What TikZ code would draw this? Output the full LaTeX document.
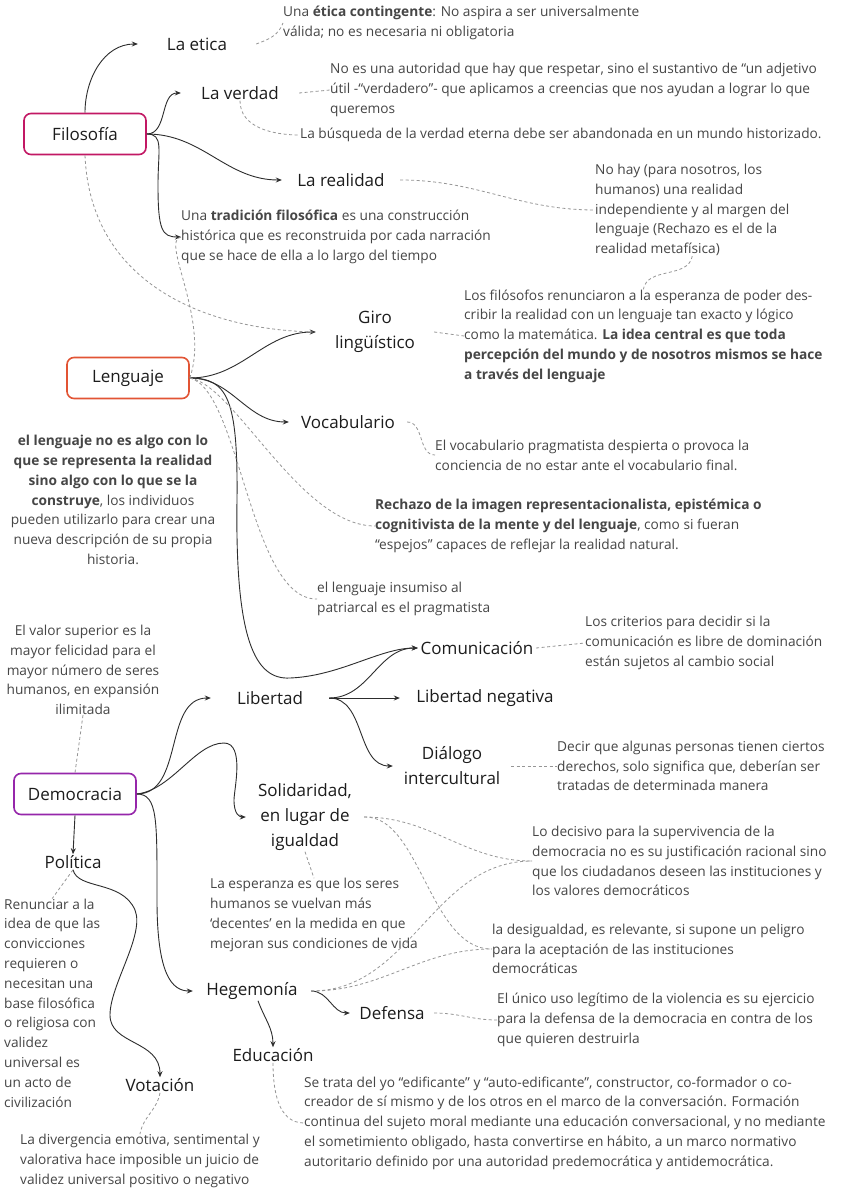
\documentclass[tikz,border=0pt]{standalone}
\usepackage{fontspec}
\setmainfont{Open Sans}
\usepackage{xcolor}
\usetikzlibrary{arrows.meta}
\definecolor{filc}{RGB}{194,24,100}
\definecolor{lenc}{RGB}{226,84,52}
\definecolor{demc}{RGB}{150,38,170}
\definecolor{txt}{RGB}{28,28,28}
\definecolor{notec}{RGB}{70,70,70}
\definecolor{linec}{RGB}{45,45,45}
\definecolor{tiec}{RGB}{150,150,150}
\tikzset{
  topic/.style={font=\fontsize{17}{25}\selectfont, text=txt, align=center, inner sep=1pt, minimum width=118pt},
  main/.style={topic, draw, rounded corners=7pt, line width=1.6pt, minimum width=122pt, minimum height=41pt},
  note/.style={font=\fontsize{13.7}{19.8}\selectfont, text=notec, align=left, inner sep=0pt},
  link/.style={draw=linec, line width=0.9pt, -{Stealth[length=6pt,width=5pt]}},
  tie/.style={draw=tiec, line width=0.8pt, dashed, dash pattern=on 3pt off 2.5pt}
}
\begin{document}
\begin{tikzpicture}[x=1pt,y=-1pt]
		\fill[white] (0,0) rectangle (841,1188);
		\useasboundingbox (0,0) rectangle (841,1188);
		\node (F) [main, draw=filc] at (85,134) {Filosofía};
		\node (L) [main, draw=lenc] at (128,378) {Lenguaje};
		\node (D) [main, draw=demc] at (75,794) {Democracia};
		\node (eti) [topic] at (197,44) {La etica};
		\node (ver) [topic] at (240,93) {La verdad};
		\node (rea) [topic] at (341,180) {La realidad};
		\node (giro) [topic] at (375,332) {Giro\\lingüístico};
		\node (voc) [topic] at (348,422) {Vocabulario};
		\node (com) [topic] at (477,648) {Comunicación};
		\node (lib) [topic] at (270,698) {Libertad};
		\node (neg) [topic, minimum width=170pt] at (485,698) {Libertad negativa};
		\node (dia) [topic] at (452,766) {Diálogo\\intercultural};
		\node (sol) [topic] at (305,817) {Solidaridad,\\en lugar de\\igualdad};
		\node (pol) [topic] at (73,862) {Política};
		\node (heg) [topic] at (252,991) {Hegemonía};
		\node (def) [topic, minimum width=84pt] at (392,1013) {Defensa};
		\node (edu) [topic] at (273,1055) {Educación};
		\node (vot) [topic] at (160,1085) {Votación};
		\node (nEti) [note, anchor=west] at (283,23) {Una \textbf{ética contingente}: No aspira a ser universalmente\\válida; no es necesaria ni obligatoria};
		\node (nVer) [note, anchor=west] at (330,90) {No es una autoridad que hay que respetar, sino el sustantivo de “un adjetivo\\útil -“verdadero”- que aplicamos a creencias que nos ayudan a lograr lo que\\queremos};
		\node (nBus) [note, anchor=west] at (300,135) {La búsqueda de la verdad eterna debe ser abandonada en un mundo historizado.};
		\node (nRea) [note, anchor=west] at (595,210) {No hay (para nosotros, los\\humanos) una realidad\\independiente y al margen del\\lenguaje (Rechazo es el de la\\realidad metafísica)};
		\node (nTra) [note, anchor=west] at (181,237) {Una \textbf{tradición filosófica} es una construcción\\histórica que es reconstruida por cada narración\\que se hace de ella a lo largo del tiempo};
		\node (nGiro) [note, anchor=west] at (464,336) {Los filósofos renunciaron a la esperanza de poder des-\\cribir la realidad con un lenguaje tan exacto y lógico\\como la matemática. \textbf{La idea central es que toda}\\\textbf{percepción del mundo y de nosotros mismos se hace}\\\textbf{a través del lenguaje}};
		\node (nLen) [note, align=center] at (113,500) {\textbf{el lenguaje no es algo con lo}\\\textbf{que se representa la realidad}\\\textbf{sino algo con lo que se la}\\\textbf{construye}, los individuos\\pueden utilizarlo para crear una\\nueva descripción de su propia\\historia.};
		\node (nVoc) [note, anchor=west] at (435,455) {El vocabulario pragmatista despierta o provoca la\\conciencia de no estar ante el vocabulario final.};
		\node (nRec) [note, anchor=west] at (375,526) {\textbf{Rechazo de la imagen representacionalista, epistémica o}\\\textbf{cognitivista de la mente y del lenguaje}, como si fueran\\“espejos” capaces de reflejar la realidad natural.};
		\node (nIns) [note, anchor=west] at (317,599) {el lenguaje insumiso al\\patriarcal es el pragmatista};
		\node (nCom) [note, anchor=west] at (585,643) {Los criterios para decidir si la\\comunicación es libre de dominación\\están sujetos al cambio social};
		\node (nVal) [note, align=center] at (83,670) {El valor superior es la\\mayor felicidad para el\\mayor número de seres\\humanos, en expansión\\ilimitada};
		\node (nDia) [note, anchor=west] at (557,766) {Decir que algunas personas tienen ciertos\\derechos, solo significa que, deberían ser\\tratadas de determinada manera};
		\node (nDec) [note, anchor=west] at (532,861) {Lo decisivo para la supervivencia de la\\democracia no es su justificación racional sino\\que los ciudadanos deseen las instituciones y\\los valores democráticos};
		\node (nEsp) [note, anchor=west] at (210,915) {La esperanza es que los seres\\humanos se vuelvan más\\‘decentes’ en la medida en que\\mejoran sus condiciones de vida};
		\node (nRen) [note, anchor=west] at (4,1003) {Renunciar a la\\idea de que las\\convicciones\\requieren o\\necesitan una\\base filosófica\\o religiosa con\\validez\\universal es\\un acto de\\civilización};
		\node (nDes) [note, anchor=west] at (492,949) {la desigualdad, es relevante, si supone un peligro\\para la aceptación de las instituciones\\democráticas};
		\node (nUni) [note, anchor=west] at (497,1020) {El único uso legítimo de la violencia es su ejercicio\\para la defensa de la democracia en contra de los\\que quieren destruirla};
		\node (nSe) [note, anchor=west] at (304,1123) {Se trata del yo “edificante” y “auto-edificante”, constructor, co-formador o co-\\creador de sí mismo y de los otros en el marco de la conversación. Formación\\continua del sujeto moral mediante una educación conversacional, y no mediante\\el sometimiento obligado, hasta convertirse en hábito, a un marco normativo\\autoritario definido por una autoridad predemocrática y antidemocrática.};
		\node (nDiv) [note, anchor=west] at (20,1161) {La divergencia emotiva, sentimental y\\valorativa hace imposible un juicio de\\validez universal positivo o negativo};
		\draw[link] (F.north) to[out=90, in=180] (eti.west);
		\draw[link] (F.east) to[out=0, in=180] (ver.west);
		\draw[link] (F.east) to[out=0, in=180] (rea.west);
		\draw[link] (F.east) .. controls (164,134) and (158,150) .. (158,185) .. controls (158,230) and (162,237) .. (nTra.west);
		\draw[link] (L.east) to[out=0, in=180] (giro.west);
		\draw[link] (L.east) to[out=0, in=180] (voc.west);
		\draw[link] (L.east) .. controls (228,378) and (238,400) .. (237,500) .. controls (235,640) and (255,680) .. (290,678) .. controls (340,676) and (380,648) .. (com.west);
		\draw[link] (lib.east) to[out=0, in=180] (com.west);
		\draw[link] (lib.east) -- (neg.west);
		\draw[link] (lib.east) to[out=0, in=180] (dia.west);
		\draw[link] (D.east) to[out=0, in=180] (lib.west);
		\draw[link] (D.east) .. controls (172,790) and (195,743) .. (224,743) .. controls (245,743) and (234,790) .. (234,800) .. controls (234,815) and (240,817) .. (sol.west);
		\draw[link] (D.east) .. controls (158,794) and (157,820) .. (157,900) .. controls (157,975) and (172,991) .. (heg.west);
		\draw[link] (D.south) -- (pol.north);
		\draw[link] (pol.south) .. controls (78,890) and (122,880) .. (135,910) .. controls (145,935) and (110,985) .. (110,1015) .. controls (110,1045) and (160,1040) .. (vot.north);
		\draw[link] (heg.east) to[out=0, in=180] (def.west);
		\draw[link] ([xshift=6pt]heg.south) to[out=-70, in=90] (edu.north);
		\draw[tie] (eti.east) to[out=20, in=250] (nEti.west);
		\draw[tie] (ver.east) -- (nVer.west);
		\draw[tie] (ver.south) to[out=-90, in=180] (nBus.west);
		\draw[tie] (rea.east) to[out=0, in=180] (nRea.west);
		\draw[tie] (nRea.south) to[out=-100, in=80] (nGiro.north);
		\draw[tie] (F.south) .. controls (90,280) and (200,330) .. (giro.west);
		\draw[tie] (L.east) .. controls (210,320) and (160,240) .. (nTra.west);
		\draw[tie] (giro.east) -- (nGiro.west);
		\draw[tie] (voc.east) to[out=0, in=180] (nVoc.west);
		\draw[tie] (L.east) .. controls (235,385) and (300,526) .. (nRec.west);
		\draw[tie] (L.east) .. controls (240,390) and (250,600) .. (nIns.west);
		\draw[tie] (com.east) -- (nCom.west);
		\draw[tie] (dia.east) -- (nDia.west);
		\draw[tie] (nVal.south) -- (D.north);
		\draw[tie] (sol.east) to[out=0, in=180] (nDec.west);
		\draw[tie] (sol.east) .. controls (420,815) and (430,950) .. (nDes.west);
		\draw[tie] (sol.south) -- (nEsp.north);
		\draw[tie] (heg.east) to[out=0, in=180] (nDec.west);
		\draw[tie] (heg.east) to[out=0, in=180] (nDes.west);
		\draw[tie] (pol.south) -- (nRen.north);
		\draw[tie] (def.east) to[out=0, in=180] (nUni.west);
		\draw[tie] (edu.south) to[out=-90, in=180] (nSe.west);
		\draw[tie] (vot.south) to[out=-100, in=80] (nDiv.north);
\end{tikzpicture}
\end{document}
